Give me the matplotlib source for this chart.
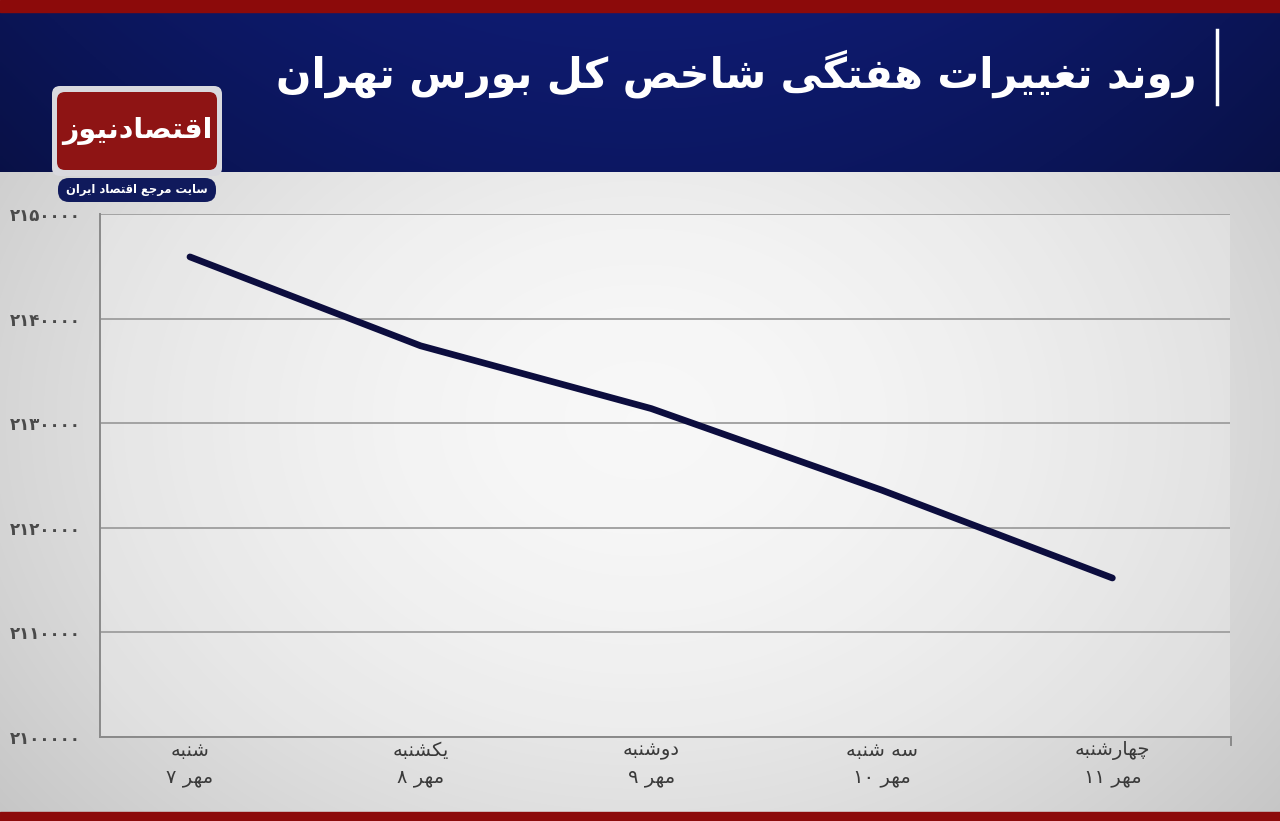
import numpy as np
import matplotlib.pyplot as plt
from matplotlib.patches import FancyBboxPatch, Rectangle

# ================================
# DATA
# ================================
days = ["شنبه", "یکشنبه", "دوشنبه", "سه شنبه", "چهارشنبه"]
dates = ["۷", "۸", "۹", "۱۰", "۱۱"]
index_values = [2145900, 2137400, 2131400, 2123600, 2115200]
y_ticks = [2100000, 2110000, 2120000, 2130000, 2140000, 2150000]

title = "روند تغییرات هفتگی شاخص کل بورس تهران"
logo_text = "اقتصادنیوز"
logo_sub = "سایت مرجع اقتصاد ایران"
month = "مهر"

# ================================
# SIMPLE ARABIC SHAPING (no reshaper lib available)
# ================================
FORMS = {
    "ا": (0xFE8D, 0xFE8E, None, None),
    "ب": (0xFE8F, 0xFE90, 0xFE91, 0xFE92),
    "ت": (0xFE95, 0xFE96, 0xFE97, 0xFE98),
    "ج": (0xFE9D, 0xFE9E, 0xFE9F, 0xFEA0),
    "خ": (0xFEA5, 0xFEA6, 0xFEA7, 0xFEA8),
    "د": (0xFEA9, 0xFEAA, None, None),
    "ر": (0xFEAD, 0xFEAE, None, None),
    "ز": (0xFEAF, 0xFEB0, None, None),
    "س": (0xFEB1, 0xFEB2, 0xFEB3, 0xFEB4),
    "ش": (0xFEB5, 0xFEB6, 0xFEB7, 0xFEB8),
    "ص": (0xFEB9, 0xFEBA, 0xFEBB, 0xFEBC),
    "ع": (0xFEC9, 0xFECA, 0xFECB, 0xFECC),
    "غ": (0xFECD, 0xFECE, 0xFECF, 0xFED0),
    "ف": (0xFED1, 0xFED2, 0xFED3, 0xFED4),
    "ق": (0xFED5, 0xFED6, 0xFED7, 0xFED8),
    "ل": (0xFEDD, 0xFEDE, 0xFEDF, 0xFEE0),
    "م": (0xFEE1, 0xFEE2, 0xFEE3, 0xFEE4),
    "ن": (0xFEE5, 0xFEE6, 0xFEE7, 0xFEE8),
    "ه": (0xFEE9, 0xFEEA, 0xFEEB, 0xFEEC),
    "و": (0xFEED, 0xFEEE, None, None),
    "ی": (0xFBFC, 0xFBFD, 0xFBFE, 0xFBFF),
    "ک": (0xFB8E, 0xFB8F, 0xFB90, 0xFB91),
    "گ": (0xFB92, 0xFB93, 0xFB94, 0xFB95),
    "چ": (0xFB7A, 0xFB7B, 0xFB7C, 0xFB7D),
}


def fa(text):
    out = []
    for i, ch in enumerate(text):
        if ch not in FORMS:
            out.append(ch)
            continue
        iso, fin, ini, med = FORMS[ch]
        prev = text[i - 1] if i > 0 else ""
        nxt = text[i + 1] if i + 1 < len(text) else ""
        join_prev = prev in FORMS and FORMS[prev][2] is not None
        join_next = ini is not None and nxt in FORMS
        if join_prev and join_next:
            g = med
        elif join_prev:
            g = fin
        elif join_next:
            g = ini
        else:
            g = iso
        out.append(chr(g))
    return "".join(out)[::-1]


def to_fa_digits(n):
    return "".join(chr(0x06F0 + int(d)) for d in str(n))


# ================================
# FIGURE + BACKGROUND
# ================================
fig = plt.figure(figsize=(12.8, 8.21), dpi=100)
bg = fig.add_axes([0, 0, 1, 1])
bg.set_xlim(0, 1280)
bg.set_ylim(821, 0)
bg.axis("off")

yy, xx = np.mgrid[0:821, 0:1280]
r = np.sqrt(((xx - 640) / 900.0) ** 2 + ((yy - 420) / 700.0) ** 2)
gray = np.clip(0.965 - 0.22 * r ** 1.6, 0.78, 1)
bg.imshow(np.dstack([gray, gray, gray]), extent=[0, 1280, 821, 0], zorder=0)

# header gradient
hx = np.linspace(-1, 1, 400)
hy = np.linspace(0, 1, 60)[:, None]
shade = 1 - 0.25 * hx[None, :] ** 2 - 0.12 * hy
header = np.dstack([0.055 * shade, 0.105 * shade, 0.44 * shade])
bg.imshow(header, extent=[0, 1280, 172, 12], aspect="auto", zorder=1)
bg.add_patch(Rectangle((0, 0), 1280, 12, color="#8c0a0a", zorder=2))
bg.add_patch(Rectangle((0, 812), 1280, 9, color="#8c0a0a", zorder=2))
bg.plot([1217, 1217], [30, 104], color="white", lw=2.5, zorder=3)
bg.text(1196, 74, fa(title), color="white", fontsize=30, fontweight="bold",
        ha="right", va="center", family="DejaVu Sans", zorder=3)

# logo
bg.add_patch(FancyBboxPatch((52, 86), 170, 90, boxstyle="round,pad=0,rounding_size=8",
                            fc="#d9d9de", ec="none", zorder=3))
bg.add_patch(FancyBboxPatch((57, 92), 160, 78, boxstyle="round,pad=0,rounding_size=8",
                            fc="#8e1414", ec="none", zorder=4))
bg.text(137, 131, fa(logo_text), color="white", fontsize=20.5, fontweight="bold",
        ha="center", va="center", zorder=5)
bg.add_patch(FancyBboxPatch((58, 178), 158, 24, boxstyle="round,pad=0,rounding_size=11",
                            fc="#101a5c", ec="none", zorder=4))
bg.text(137, 190, fa(logo_sub), color="white", fontsize=8.3, fontweight="bold",
        ha="center", va="center", zorder=5)

# ================================
# CHART
# ================================
ax = fig.add_axes([100 / 1280, 1 - 737 / 821, 1130 / 1280, (737 - 214) / 821])
ax.set_facecolor((1, 1, 1, 0.25))
x = np.arange(len(days))
ax.plot(x, index_values, color="#0c0d3e", lw=4.8, solid_capstyle="round",
        solid_joinstyle="round", zorder=3)

ax.set_xlim(-0.39, 4.51)
ax.set_ylim(y_ticks[0], y_ticks[-1])
ax.set_yticks(y_ticks)
ax.set_yticklabels([to_fa_digits(v) for v in y_ticks], fontsize=12,
                   fontweight="bold", color="#4a4a4a")
ax.set_xticks(x)
ax.set_xticklabels([fa(d) + "\n" + dt + " " + fa(month) for d, dt in zip(days, dates)],
                   fontsize=14, color="#3a3a3a", linespacing=1.45)
ax.tick_params(axis="y", length=0, pad=14)
ax.tick_params(axis="x", length=0, pad=3)
ax.grid(axis="y", color="#a3a3a3", lw=1.4)
for s in ["top", "right"]:
    ax.spines[s].set_visible(False)
ax.spines["left"].set_color("#8a8a8a")
ax.spines["bottom"].set_color("#8a8a8a")
ax.spines["left"].set_linewidth(1.4)
ax.spines["bottom"].set_linewidth(1.4)
# small end tick at the right of the baseline
bg.plot([1231, 1231], [737, 745], color="#8a8a8a", lw=1.4, zorder=3)

fig.savefig("out.png", dpi=100)
